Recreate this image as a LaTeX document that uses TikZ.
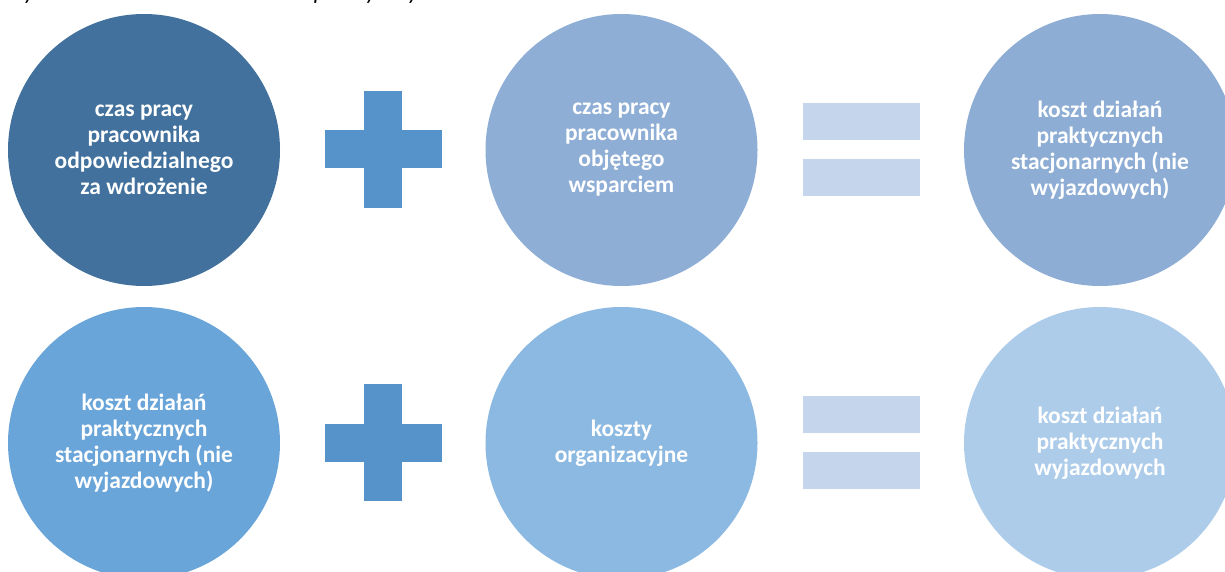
\documentclass[tikz,border=0pt]{standalone}
\usepackage{fontspec}
\setmainfont{Carlito}
\begin{document}
\begin{tikzpicture}[x=1pt,y=-1pt,
  disc/.style={circle, inner sep=0pt, minimum size=272pt, text=white,
    font=\fontsize{23.5}{26}\selectfont\bfseries, align=center},
  bar/.style={rectangle, inner sep=0pt, fill=plusblue},
  eqbar/.style={rectangle, inner sep=0pt, fill=eqblue, minimum width=117pt, minimum height=37pt}
]
\definecolor{cA}{HTML}{41719C}
\definecolor{cB}{HTML}{8EAED5}
\definecolor{cC}{HTML}{8DADD4}
\definecolor{cD}{HTML}{6AA5D9}
\definecolor{cE}{HTML}{8CB9E1}
\definecolor{cF}{HTML}{ADCCEA}
\definecolor{plusblue}{HTML}{5793CB}
\definecolor{eqblue}{HTML}{C5D5EB}
\useasboundingbox (0,0) rectangle (1225,572);
\clip (0,0) rectangle (1225,572);

% caption line, mostly above the top edge
\node[anchor=base west, inner sep=0pt,
      font=\fontsize{24}{28}\selectfont\itshape] (title) at (3,-0.5)
  {\spaceskip=20pt\relax Wyliczenie kosztów działań praktycznych};

% first row
\node[disc, fill=cA] (a1) at (144,150) {czas pracy\\pracownika\\odpowiedzialnego\\za wdrożenie};
\node[disc, fill=cB] (b1) at (621.5,150) {czas pracy\\pracownika\\objętego\\wsparciem};
\node[disc, fill=cC] (c1) at (1100,150) {koszt działań\\praktycznych\\stacjonarnych (nie\\wyjazdowych)};

% second row
\node[disc, fill=cD] (a2) at (144,443) {koszt działań\\praktycznych\\stacjonarnych (nie\\wyjazdowych)};
\node[disc, fill=cE] (b2) at (621.5,443) {koszty\\organizacyjne};
\node[disc, fill=cF] (c2) at (1100,443) {koszt działań\\praktycznych\\wyjazdowych};

% plus signs
\node[bar, minimum width=38pt, minimum height=117pt] (p1v) at (383,149.5) {};
\node[bar, minimum width=117pt, minimum height=38pt] (p1h) at (383,149.5) {};
\node[bar, minimum width=38pt, minimum height=117pt] (p2v) at (383,442.5) {};
\node[bar, minimum width=117pt, minimum height=38pt] (p2h) at (383,442.5) {};

% equals signs
\node[eqbar] (e1t) at (861,121.5) {};
\node[eqbar] (e1b) at (861,177.5) {};
\node[eqbar] (e2t) at (861,414.5) {};
\node[eqbar] (e2b) at (861,470.5) {};
\end{tikzpicture}
\end{document}
